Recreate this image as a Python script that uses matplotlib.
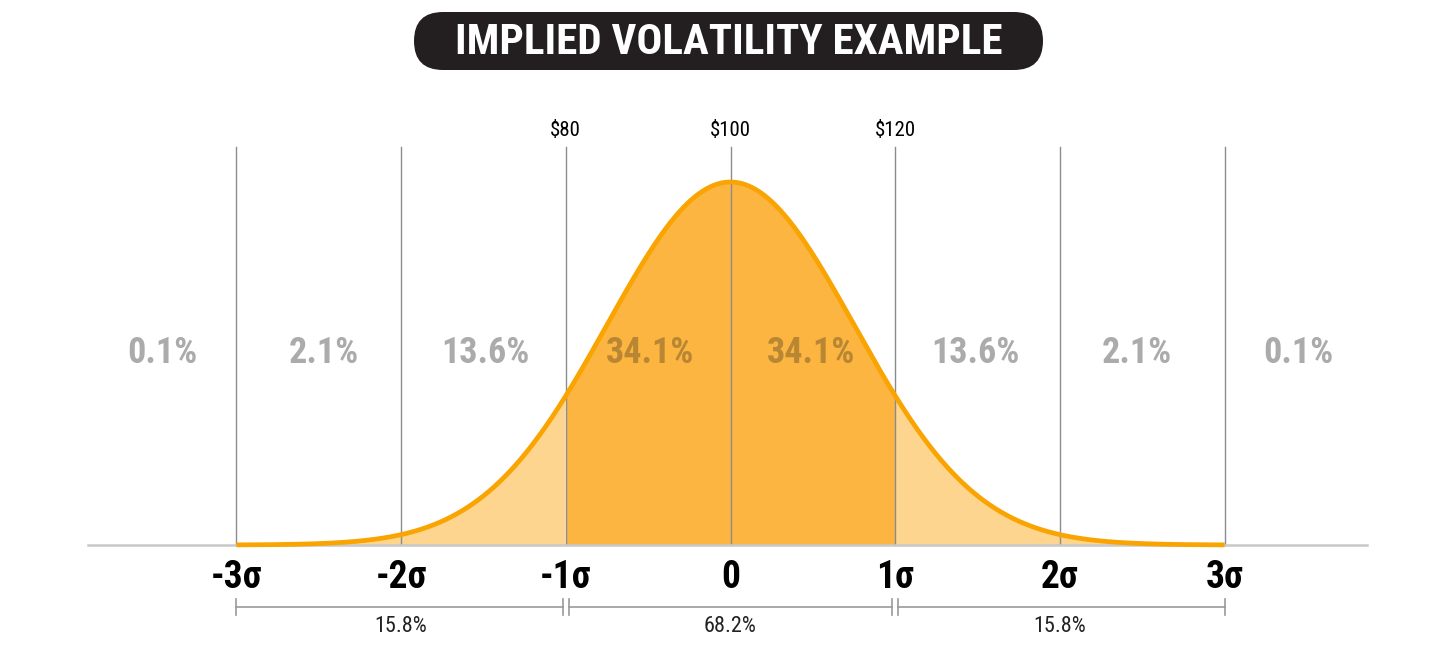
import numpy as np
import matplotlib.pyplot as plt
from matplotlib.patches import FancyBboxPatch

# ---- data ----
sigma_ticks = [-3, -2, -1, 0, 1, 2, 3]
sigma_labels = ["-3σ", "-2σ", "-1σ", "0", "1σ", "2σ", "3σ"]
price_ticks = [-1, 0, 1]
price_labels = ["$80", "$100", "$120"]
band_pos = [-3.45, -2.47, -1.49, -0.49, 0.49, 1.49, 2.47, 3.45]
band_labels = ["0.1%", "2.1%", "13.6%", "34.1%", "34.1%", "13.6%", "2.1%", "0.1%"]
bracket_ranges = [(-3, -1), (-1, 1), (1, 3)]
bracket_labels = ["15.8%", "68.2%", "15.8%"]
title = "IMPLIED VOLATILITY EXAMPLE"
curve_width = 0.75     # drawn bell width relative to tick spacing
curve_peak = 0.3989

COND = ['Roboto Condensed', 'Liberation Sans Narrow', 'Roboto', 'DejaVu Sans']

W, H = 1456, 646
fig = plt.figure(figsize=(W / 100, H / 100), dpi=100)
ax = fig.add_axes([0, 0, 1, 1])
sx, x0 = 164.7, 730.5
sy, y0 = 910.0, 545
ax.set_xlim((0 - x0) / sx, (W - x0) / sx)
ax.set_ylim(-(H - y0) / sy, y0 / sy)
ax.axis('off')

def py(p):
    return (y0 - p) / sy

def px(p):
    return (p - x0) / sx

x = np.linspace(-3, 3, 1500)
pdf = curve_peak * np.exp(-(x / curve_width) ** 2 / 2)

light = '#FDD58F'
dark = '#FBB540'
line_c = '#F9A400'

ax.fill_between(x, 0, pdf, where=(np.abs(x) <= 1.0001), color=dark, lw=0, zorder=1)
ax.fill_between(x, 0, pdf, where=(np.abs(x) >= 0.9999), color=light, lw=0, zorder=1)

for s in sigma_ticks:
    ax.plot([s, s], [0, py(147)], color='#8C8C8C', lw=1, zorder=2)

ax.plot(x, pdf, color=line_c, lw=3.4, zorder=3, solid_capstyle='butt')

ax.plot([px(88), px(1367)], [0, 0], color='#C8C8C8', lw=1.8, zorder=2)

for s, lab in zip(sigma_ticks, sigma_labels):
    ax.text(s, py(578), lab, ha='center', va='center', fontsize=27,
            fontweight='bold', family=COND, color='black')

for s, lab in zip(price_ticks, price_labels):
    ax.text(s, py(131), lab, ha='center', va='center', fontsize=15,
            family=COND, color='black')

for s, lab in zip(band_pos, band_labels):
    col = '#B98633' if abs(s) < 1 else '#ABABAB'
    ax.text(s, py(353), lab, ha='center', va='center', fontsize=26,
            fontweight='bold', family=COND, color=col, zorder=4)

gap = 3 / sx
tick = 8 / sy
yb = py(607)
for (a, b), lab in zip(bracket_ranges, bracket_labels):
    la = a + (gap if a != -3 else 0)
    lb = b - (gap if b != 3 else 0)
    ax.plot([la, lb], [yb, yb], color='#999999', lw=1.2)
    for xx in (la, lb):
        ax.plot([xx, xx], [yb - tick, yb + tick], color='#999999', lw=1.2)
    ax.text((a + b) / 2, py(627), lab, ha='center', va='center', fontsize=16,
            family=COND, color='#222222')

bx0, bx1 = px(414), px(1043)
by0, by1 = py(70), py(12)
r_px = 29
box = FancyBboxPatch((bx0, by0), bx1 - bx0, by1 - by0,
                     boxstyle='round,pad=0,rounding_size=%f' % (r_px / sx),
                     mutation_aspect=sx / sy, facecolor='#231F20', edgecolor='none')
ax.add_patch(box)
ax.text((bx0 + bx1) / 2, py(42), title, ha='center', va='center', fontsize=31,
        fontweight='bold', family=COND, color='white')

fig.savefig('out.png', dpi=100)
